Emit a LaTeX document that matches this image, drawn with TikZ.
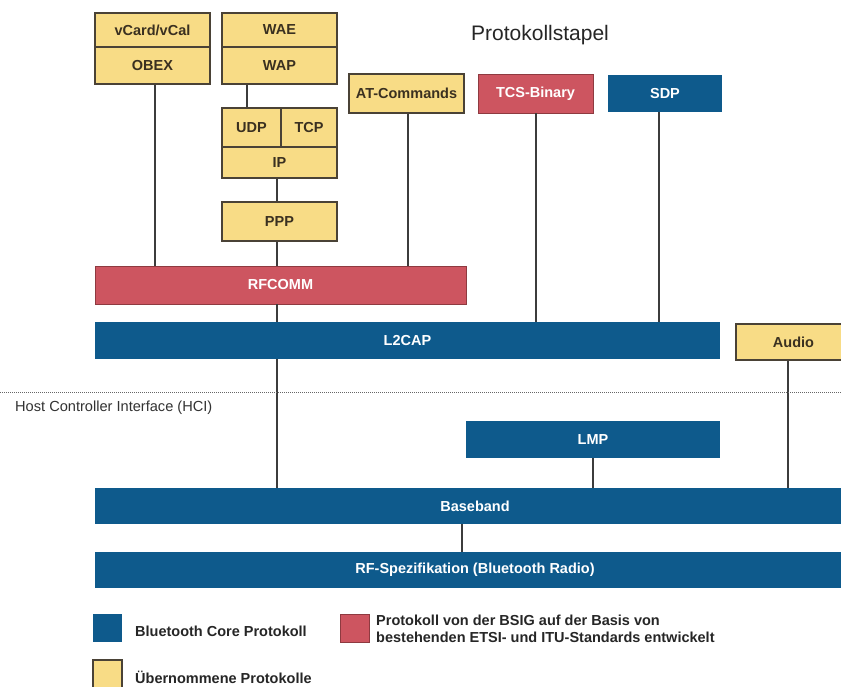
\documentclass[tikz,border=0pt]{standalone}
\usepackage{fontspec}
\setmainfont{Liberation Sans}
\definecolor{ylw}{HTML}{F8DC86}
\definecolor{ylwline}{HTML}{4A4236}
\definecolor{rd}{HTML}{CD5560}
\definecolor{rdline}{HTML}{8E3A40}
\definecolor{bl}{HTML}{0E5A8C}
\definecolor{ytext}{HTML}{3A3020}
\definecolor{conn}{HTML}{3C3C3C}
\begin{document}
\begin{tikzpicture}[x=1pt,y=-1pt,
  base/.style={rectangle,inner sep=0pt,anchor=center,font=\fontsize{14.5}{16}\selectfont\bfseries},
  ybox/.style={base,fill=ylw,draw=ylwline,line width=1.4pt,text=ytext},
  rbox/.style={base,fill=rd,draw=rdline,line width=0.8pt,text=white},
  bbox/.style={base,fill=bl,text=white},
  conn/.style={draw=conn,line width=1.5pt},
  legtext/.style={anchor=west,inner sep=0pt,font=\fontsize{14.5}{17}\selectfont\bfseries,text=black!85,align=left}]
\useasboundingbox (0,0) rectangle (841,687);
\fill[white] (0,0) rectangle (841,687);
% title
\node[inner sep=0pt,font=\fontsize{21}{24}\selectfont,text=black!85] (title) at (540,35) {Protokollstapel};
% top stacks
\node[ybox,minimum width=115pt,minimum height=34pt] (vcard) at (152.5,30) {vCard/vCal};
\node[ybox,minimum width=115pt,minimum height=37pt] (obex) at (152.5,65.5) {OBEX};
\node[ybox,minimum width=115pt,minimum height=34pt] (wae) at (279.5,30) {WAE};
\node[ybox,minimum width=115pt,minimum height=37pt] (wap) at (279.5,65.5) {WAP};
\node[ybox,minimum width=59pt,minimum height=39pt] (udp) at (251.5,127.5) {UDP};
\node[ybox,minimum width=56pt,minimum height=39pt] (tcp) at (309,127.5) {TCP};
\node[ybox,minimum width=115pt,minimum height=31pt] (ip) at (279.5,162.5) {IP};
\node[ybox,minimum width=115pt,minimum height=39pt] (ppp) at (279.5,221.5) {PPP};
\node[ybox,minimum width=115pt,minimum height=39pt] (at) at (406.5,93.5) {AT-Commands};
\node[rbox,minimum width=115pt,minimum height=39pt] (tcs) at (535.5,93.5) {TCS-Binary};
\node[bbox,minimum width=114pt,minimum height=37pt] (sdp) at (665,93.5) {SDP};
\node[rbox,minimum width=371pt,minimum height=38pt] (rfcomm) at (280.5,285) {RFCOMM};
\node[bbox,minimum width=625pt,minimum height=37pt] (l2cap) at (407.5,340.5) {L2CAP};
\node[ybox,minimum width=115pt,minimum height=36pt] (audio) at (793.5,342) {Audio};
\node[bbox,minimum width=254pt,minimum height=37pt] (lmp) at (593,439.5) {LMP};
\node[bbox,minimum width=760pt,minimum height=36pt] (baseband) at (475,506) {Baseband};
\node[bbox,minimum width=760pt,minimum height=36pt] (rf) at (475,570) {RF-Spezifikation (Bluetooth Radio)};
% connectors
\draw[conn] ([xshift=2.5pt]obex.south) -- ([xshift=2.5pt]obex.south |- rfcomm.north);
\draw[conn] ([xshift=-4.5pt]udp.north) -- ([xshift=-4.5pt]udp.north |- wap.south);
\draw[conn] ([xshift=-2.5pt]ip.south) -- ([xshift=-2.5pt]ip.south |- ppp.north);
\draw[conn] ([xshift=-2.5pt]ppp.south) -- ([xshift=-2.5pt]ppp.south |- rfcomm.north);
\draw[conn] ([xshift=1.5pt]at.south) -- ([xshift=1.5pt]at.south |- rfcomm.north);
\draw[conn] ([xshift=0.5pt]tcs.south) -- ([xshift=0.5pt]tcs.south |- l2cap.north);
\draw[conn] ([xshift=-6pt]sdp.south) -- ([xshift=-6pt]sdp.south |- l2cap.north);
\draw[conn] ([xshift=-3.5pt]rfcomm.south) -- ([xshift=-3.5pt]rfcomm.south |- l2cap.north);
\draw[conn] ([xshift=-3.5pt]rfcomm.south |- l2cap.south) -- ([xshift=-3.5pt]rfcomm.south |- baseband.north);
\draw[conn] ([xshift=-5.5pt]audio.south) -- ([xshift=-5.5pt]audio.south |- baseband.north);
\draw[conn] (lmp.south) -- (lmp.south |- baseband.north);
\draw[conn] ([xshift=-13pt]baseband.south) -- ([xshift=-13pt]baseband.south |- rf.north);
% HCI
\coordinate (hcil) at (0,392.5);
\coordinate (hcir) at (841,392.5);
\draw[gray!80!black,line width=1pt,dash pattern=on 1pt off 1pt] (hcil) -- (hcir);
\node[anchor=west,inner sep=0pt,font=\fontsize{14.6}{16}\selectfont,text=black!80] (hci) at (15,407.5) {Host Controller Interface (HCI)};
% legend
\node[bbox,minimum width=29pt,minimum height=28pt] (legb) at (107.5,628) {};
\node[legtext] (legbt) at (135,631) {Bluetooth Core Protokoll};
\node[rbox,minimum width=29pt,minimum height=28pt] (legr) at (354.5,628) {};
\node[legtext] (legrt) at (376,628.5) {Protokoll von der BSIG auf der Basis von\\bestehenden ETSI- und ITU-Standards entwickelt};
\node[ybox,minimum width=29pt,minimum height=30pt] (legy) at (107.5,675) {};
\node[legtext] (legyt) at (135,677) {Übernommene Protokolle};
\end{tikzpicture}
\end{document}
